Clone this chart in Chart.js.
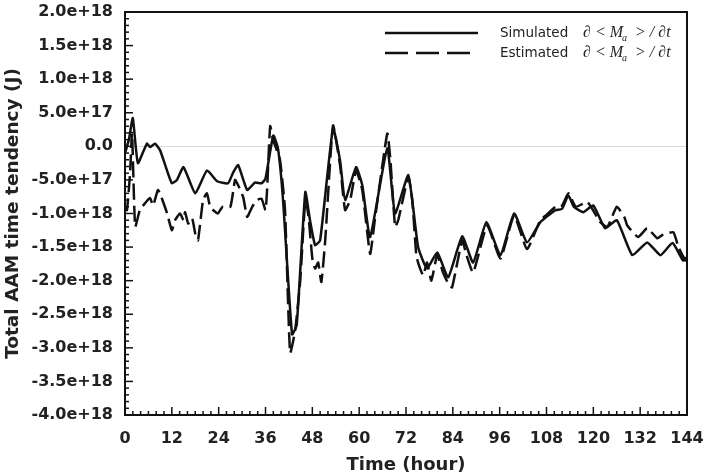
<!DOCTYPE html>
<html>
<head>
<meta charset="utf-8">
<script src="https://cdn.jsdelivr.net/npm/chart.js@4.4.1/dist/chart.umd.min.js"></script>
<style>
  body { margin: 0; background: #fff; }
  #wrap { width: 704px; height: 472px; }
</style>
</head>
<body>
<div id="wrap"><canvas id="aam" width="704" height="472"></canvas></div>
<script>
// values in units of 1e17 J
const simHours = [0, 1, 2, 3.3, 5.6, 6.4, 7.7, 9, 10.3, 12, 13.3, 15, 18, 21, 23.6, 26.4, 27.7, 29, 31.3, 33.3, 35, 36, 38, 39.2, 40.5, 42.8, 44, 46.2, 47.4, 48.7, 50, 53.3, 55.1, 56.4, 59.2, 60.8, 62.8, 67.2, 69.2, 72.6, 75.1, 77.4, 80, 82.8, 86.4, 89.2, 92.6, 96.2, 99.7, 103, 106.4, 108, 110.3, 112, 113.6, 115, 117.4, 120, 123, 126, 130, 133.8, 137.2, 140.3, 143, 144];
const simValues = [-1, 1, 4.2, -2.5, 0.4, -0.1, 0.4, -0.6, -2.8, -5.5, -5, -3.1, -7, -3.6, -5.2, -5.5, -3.9, -2.8, -6.5, -5.4, -5.5, -4.8, 1.6, -0.3, -8, -28, -26.6, -6.8, -11, -14.7, -14, 2.7, -2.1, -8, -3.1, -5.8, -13.5, -0.3, -10, -4.3, -15, -18.2, -15.8, -19.5, -13.4, -17.3, -11.3, -16.2, -10, -14.3, -11.3, -10.5, -9.5, -9.3, -7.3, -9, -9.8, -8.8, -12.2, -11, -16.2, -14.3, -16.2, -14.4, -17, -16.5];

const estHours = [0, 0.5, 1.3, 1.8, 2.6, 3.8, 5.1, 6.4, 7.2, 8.5, 10.8, 12, 12.8, 14.1, 15, 15.4, 16.2, 17.2, 18, 18.7, 20, 21, 21.8, 22.6, 23.8, 25, 27, 28.2, 29, 30.3, 31.3, 32.6, 33.8, 35, 36, 36.4, 37.2, 38, 39.7, 41, 42.3, 43.6, 44.9, 46.2, 47, 48, 48.7, 49.5, 50.3, 51.3, 53.3, 55.1, 56.4, 57.7, 59.2, 60.8, 62.8, 64, 67.2, 68, 69.2, 70, 72.6, 73.6, 74.6, 75.1, 76.4, 77.4, 78.5, 80, 81.5, 82.8, 83.8, 86.4, 87.4, 89.2, 92.8, 96.2, 99.7, 103, 106.4, 108, 110.3, 112, 113.6, 115.5, 118.5, 121.8, 123.6, 126, 128, 128.7, 131.5, 133.8, 136.4, 137.7, 140.5, 141.8, 143.6, 144];
const estValues = [-9, -9.5, -4, 2, -12, -9.5, -8.5, -7.7, -8.8, -6.5, -10, -12.5, -11, -10, -11, -9.8, -11.5, -10.7, -13, -14, -8, -7, -9, -9.5, -10, -9, -9, -5, -5.8, -7.6, -10.5, -9, -8, -7.8, -9.5, -6.5, 3, 0.9, -2, -9.5, -30.8, -27.4, -20, -8, -10.3, -16.7, -18.2, -17.3, -20.2, -14, 3.1, -2.8, -9.5, -8, -3.6, -6.5, -16, -11, 1.9, -2, -12, -11, -4.6, -8, -16, -17.3, -19.2, -17.3, -20, -16.2, -18.8, -20.4, -21, -14, -16, -18.8, -11.8, -16.7, -10.3, -15.3, -11, -10.2, -9, -8.8, -7, -9, -8.3, -11.3, -12, -9, -10.6, -11.8, -13.5, -12.2, -13.7, -13.2, -12.8, -15, -17, -16.8];

const xTicks = [0, 12, 24, 36, 48, 60, 72, 84, 96, 108, 120, 132, 144];
const seriesNames = ['Simulated', 'Estimated'];

const toPoints = (hours, vals) => hours.map((h, i) => ({ x: h, y: vals[i] * 1e17 }));
const FONT = '"DejaVu Sans", Verdana, sans-serif';

function fmtY(v) {
    if (Math.abs(v) < 1) return '0.0';
    return v.toExponential(1);
}

// no extra room for overflowing tick labels, the box is placed by layout.padding
function noOverflow(s) {
    s.paddingTop = 0;
    s.paddingBottom = 0;
    s.paddingLeft = 0;
    s.paddingRight = 0;
}

// frame, inward ticks and the legend box
const framePlugin = {
    id: 'frame',
    afterDatasetsDraw(chart) {
        const { ctx, chartArea: a, scales } = chart;
        const xs = scales.x, ys = scales.y;
        ctx.save();
        ctx.strokeStyle = '#111';
        ctx.lineWidth = 1.5;
        for (let v = -40; v <= 20; v++) {
            const py = ys.getPixelForValue(v * 1e17);
            const len = v % 5 === 0 ? 8 : 4;
            ctx.beginPath();
            ctx.moveTo(a.left, py);
            ctx.lineTo(a.left + len, py);
            ctx.stroke();
        }
        for (let h = 0; h <= 144; h += 2) {
            const px = xs.getPixelForValue(h);
            const len = h % 12 === 0 ? 8 : 4;
            ctx.beginPath();
            ctx.moveTo(px, a.bottom);
            ctx.lineTo(px, a.bottom - len);
            ctx.stroke();
        }
        ctx.lineWidth = 2;
        ctx.strokeRect(a.left, a.top, a.right - a.left, a.bottom - a.top);

        // legend
        const rows = [{ y: 33, dash: [] }, { y: 53, dash: [23, 8] }];
        rows.forEach((r, i) => {
            ctx.setLineDash(r.dash);
            ctx.lineWidth = 2.5;
            ctx.beginPath();
            ctx.moveTo(385, r.y);
            ctx.lineTo(478, r.y);
            ctx.stroke();
            ctx.setLineDash([]);
            ctx.fillStyle = '#222';
            ctx.textBaseline = 'middle';
            ctx.font = '13.5px ' + FONT;
            ctx.fillText(seriesNames[i], 500, r.y);
            ctx.font = 'italic 16px "Liberation Serif", "Times New Roman", serif';
            ctx.fillText('\u2202 < M', 583, r.y);
            ctx.font = 'italic 10px "Liberation Serif", serif';
            ctx.fillText('a', 622, r.y + 5);
            ctx.font = 'italic 16px "Liberation Serif", "Times New Roman", serif';
            ctx.fillText('> / \u2202t', 635, r.y);
        });
        ctx.restore();
    }
};

const ctx = document.getElementById('aam').getContext('2d');
const chart = new Chart(ctx, {
    type: 'line',
    data: {
        datasets: [
            {
                label: seriesNames[0],
                data: toPoints(simHours, simValues),
                borderColor: '#111',
                borderWidth: 2.5,
                pointRadius: 0,
                tension: 0.15,
                fill: false
            },
            {
                label: seriesNames[1],
                data: toPoints(estHours, estValues),
                borderColor: '#111',
                borderWidth: 2.5,
                borderDash: [16, 6],
                pointRadius: 0,
                tension: 0.15,
                fill: false
            }
        ]
    },
    options: {
        responsive: false,
        animation: false,
        layout: { autoPadding: false, padding: { top: 12, right: 17, left: 0, bottom: 0 } },
        plugins: {
            legend: { display: false },
            tooltip: { enabled: false }
        },
        scales: {
            x: {
                type: 'linear',
                min: 0,
                max: 144,
                afterBuildTicks: (s) => { s.ticks = xTicks.map(v => ({ value: v })); },
                afterFit: (s) => { s.height = 57; noOverflow(s); },
                grid: { display: false, drawTicks: false },
                border: { display: false },
                ticks: {
                    padding: 14,
                    color: '#222',
                    font: { family: FONT, size: 16, weight: 'bold' }
                },
                title: {
                    display: true,
                    text: 'Time (hour)',
                    color: '#222',
                    padding: { top: 0, bottom: -4 },
                    font: { family: FONT, size: 18, weight: 'bold' }
                }
            },
            y: {
                min: -4e18,
                max: 2e18,
                afterFit: (s) => { s.width = 125; noOverflow(s); },
                grid: {
                    drawTicks: false,
                    lineWidth: 1,
                    color: (c) => (c.tick && Math.abs(c.tick.value) < 1) ? '#d8d8d8' : 'rgba(0,0,0,0)'
                },
                border: { display: false },
                ticks: {
                    stepSize: 5e17,
                    padding: 12,
                    color: '#222',
                    callback: (v) => fmtY(v),
                    font: { family: FONT, size: 16, weight: 'bold' }
                },
                title: {
                    display: true,
                    text: 'Total AAM time tendency (J)',
                    color: '#222',
                    padding: { top: 2, bottom: 0 },
                    font: { family: FONT, size: 18.5, weight: 'bold' }
                }
            }
        }
    },
    plugins: [framePlugin]
});
</script>
</body>
</html>
